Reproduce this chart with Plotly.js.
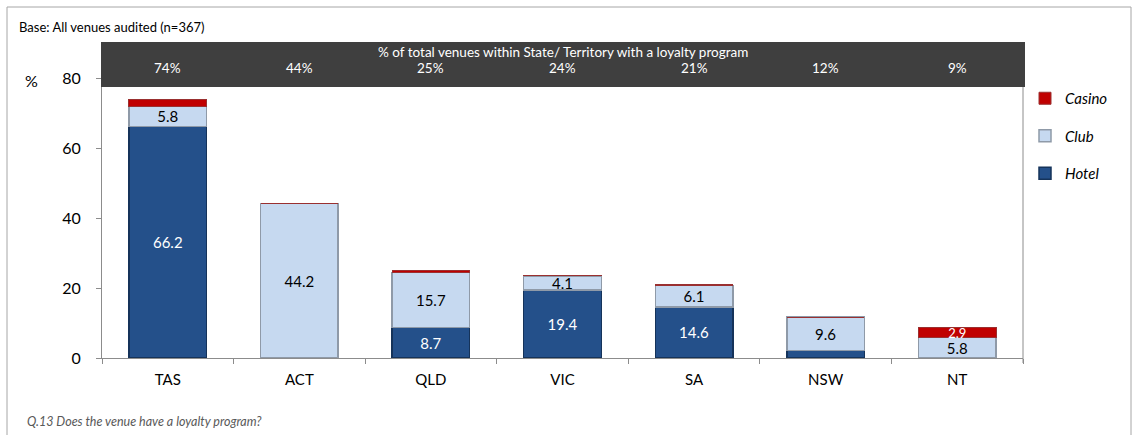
<!DOCTYPE html>
<html>
<head>
<meta charset="utf-8">
<script src="https://cdn.plot.ly/plotly-3.0.1.min.js"></script>
<style>
  html, body { margin: 0; padding: 0; background: #fff; }
  #chart { width: 1139px; height: 435px; }
</style>
</head>
<body>
<div id="chart"></div>
<script>
// ---- Data ----
const states = ['TAS', 'ACT', 'QLD', 'VIC', 'SA', 'NSW', 'NT'];
const hotel  = [66.2, 0, 8.7, 19.4, 14.6, 2.1, 0];
const club   = [5.8, 44.2, 15.7, 4.1, 6.1, 9.6, 5.8];
const casino = [2.0, 0, 0.6, 0.2, 0.2, 0, 2.9];
const loyaltyShare = ['74%', '44%', '25%', '24%', '21%', '12%', '9%'];

const headerTitle = '% of total venues within State/ Territory with a loyalty program';
const baseNote = 'Base: All venues audited (n=367)';
const footNote = 'Q.13 Does the venue have a loyalty program?';

// ---- Geometry helpers (plot area: x 102..1023 px, y 78..358 px) ----
const L = 102, R = 1023, T = 78, B = 358, W = 1139, H = 435;
const px = x => (x - L) / (R - L);
const py = y => (B - y) / (B - T);

const FONT = 'Lato, "Open Sans", sans-serif';
const lbl = arr => arr.map(v => v >= 2.5 ? v.toFixed(1) : '');

const barW = 0.59;
const traces = [
  {
    type: 'bar', name: 'Hotel', x: states, y: hotel, width: barW,
    legendgroup: 'g3', legendrank: 3,
    marker: { color: '#24508A', line: { color: '#15335A', width: 1.5 } },
    text: lbl(hotel), textposition: 'inside', insidetextanchor: 'middle', constraintext: 'none',
    textfont: { color: '#ffffff', size: 15, family: FONT },
    hoverinfo: 'x+y+name'
  },
  {
    type: 'bar', name: 'Club', x: states, y: club, width: barW,
    legendgroup: 'g2', legendrank: 2,
    marker: { color: '#C6D9F0', line: { color: '#8F9AA8', width: 1.5 } },
    text: lbl(club), textposition: 'inside', insidetextanchor: 'middle', constraintext: 'none',
    textfont: { color: '#000000', size: 15, family: FONT },
    hoverinfo: 'x+y+name'
  },
  {
    type: 'bar', name: 'Casino', x: states, y: casino, width: barW,
    legendgroup: 'g1', legendrank: 1,
    marker: { color: '#C00000', line: { color: '#9A3030', width: 1 } },
    text: lbl(casino), textposition: 'inside', insidetextanchor: 'middle', constraintext: 'none',
    textfont: { color: '#ffffff', size: 13, family: FONT },
    hoverinfo: 'x+y+name'
  }
];

const annotations = [
  { text: baseNote, xref: 'paper', yref: 'paper', x: px(17), y: py(27),
    xanchor: 'left', yanchor: 'middle', showarrow: false,
    font: { family: FONT, size: 13, color: '#000' } },
  { text: headerTitle, xref: 'paper', yref: 'paper', x: px(563), y: py(52),
    xanchor: 'center', yanchor: 'middle', showarrow: false,
    font: { family: FONT, size: 13.5, color: '#fff' } },
  { text: '%', xref: 'paper', yref: 'paper', x: px(31), y: py(80),
    xanchor: 'center', yanchor: 'middle', showarrow: false,
    font: { family: FONT, size: 16, color: '#000' } },
  { text: footNote, xref: 'paper', yref: 'paper', x: px(25), y: py(421),
    xanchor: 'left', yanchor: 'middle', showarrow: false,
    font: { family: FONT, size: 12.5, color: '#595959', style: 'italic' } }
];
states.forEach((s, i) => {
  annotations.push({
    text: loyaltyShare[i], xref: 'x', yref: 'paper', x: s, y: py(68),
    xanchor: 'center', yanchor: 'middle', showarrow: false,
    font: { family: FONT, size: 13.5, color: '#fff' }
  });
});

const shapes = [
  // outer frame
  { type: 'rect', xref: 'paper', yref: 'paper', x0: px(7), x1: px(1131), y0: py(445), y1: py(7),
    line: { color: '#A6A6A6', width: 1 }, fillcolor: 'rgba(0,0,0,0)', layer: 'below' },
  // header band
  { type: 'rect', xref: 'paper', yref: 'paper', x0: px(101), x1: px(1025), y0: py(87), y1: py(42),
    line: { width: 0 }, fillcolor: '#3F3F3F', layer: 'above' },
  // right plot border
  { type: 'line', xref: 'paper', yref: 'paper', x0: 1, x1: 1, y0: py(363), y1: py(87),
    line: { color: '#8C8C8C', width: 1 } }
];

const layout = {
  width: W, height: H,
  margin: { l: L, r: W - R, t: T, b: H - B, pad: 0 },
  paper_bgcolor: '#fff', plot_bgcolor: '#fff',
  barmode: 'stack',
  bargap: 0.41,
  font: { family: FONT, color: '#000' },
  showlegend: true,
  legend: {
    x: px(1025), y: py(82), xanchor: 'left', yanchor: 'top',
    traceorder: 'grouped', tracegroupgap: 15,
    font: { family: FONT, size: 15, color: '#000', style: 'italic' },
    itemwidth: 30, bgcolor: 'rgba(0,0,0,0)'
  },
  xaxis: {
    type: 'category', categoryorder: 'array', categoryarray: states,
    showline: true, linecolor: '#8C8C8C', linewidth: 1,
    ticks: 'outside', tickson: 'boundaries', ticklen: 5, tickcolor: '#8C8C8C',
    tickfont: { family: FONT, size: 15, color: '#000' },
    ticklabelstandoff: 8,
    showgrid: false, zeroline: false, fixedrange: true
  },
  yaxis: {
    range: [0, 80], dtick: 20, tick0: 0,
    showline: true, linecolor: '#8C8C8C', linewidth: 1,
    ticks: 'outside', ticklen: 5, tickcolor: '#8C8C8C',
    tickfont: { family: FONT, size: 16, color: '#000' },
    ticklabelstandoff: 12,
    showgrid: false, zeroline: false, fixedrange: true
  },
  annotations: annotations,
  shapes: shapes
};

Plotly.newPlot('chart', traces, layout, { displayModeBar: false, staticPlot: true });
</script>
</body>
</html>
